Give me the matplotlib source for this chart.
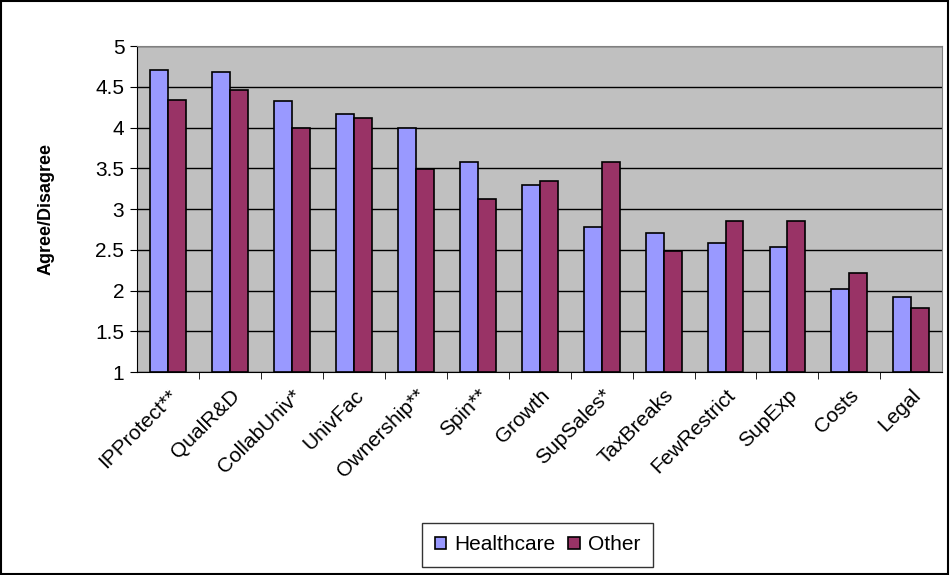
import matplotlib
matplotlib.use('Agg')
import matplotlib.pyplot as plt
import numpy as np
from matplotlib.patches import Rectangle

plt.rcParams['font.family'] = ['Liberation Sans', 'DejaVu Sans']

categories = ['IPProtect**', 'QualR&D', 'CollabUniv*', 'UnivFac', 'Ownership**', 'Spin**',
              'Growth', 'SupSales*', 'TaxBreaks', 'FewRestrict', 'SupExp', 'Costs', 'Legal']
healthcare = [4.71, 4.68, 4.32, 4.17, 4.00, 3.58, 3.29, 2.78, 2.71, 2.58, 2.53, 2.02, 1.92]
other = [4.34, 4.46, 4.00, 4.12, 3.49, 3.12, 3.34, 3.58, 2.49, 2.85, 2.85, 2.21, 1.78]

fig = plt.figure(figsize=(9.5, 5.75), dpi=100)
ax = fig.add_axes([0.144, 0.353, 0.848, 0.567])
ax.set_facecolor('#C0C0C0')

x = np.arange(len(categories))
w = 0.29
ax.bar(x - w/2, [v - 1 for v in healthcare], w, bottom=1, color='#9999FF', edgecolor='black', linewidth=1.2,
       label='Healthcare', zorder=3)
ax.bar(x + w/2, [v - 1 for v in other], w, bottom=1, color='#993366', edgecolor='black', linewidth=1.2,
       label='Other', zorder=3)

ax.set_ylim(1, 5)
ax.set_xlim(-0.5, len(categories) - 0.5)
ax.set_yticks(np.arange(1, 5.01, 0.5))
ax.set_yticklabels(['1', '1.5', '2', '2.5', '3', '3.5', '4', '4.5', '5'], fontsize=15)
ax.yaxis.grid(True, color='black', linewidth=1)
ax.set_axisbelow(True)
ax.set_xticks(x)
ax.set_xticklabels(categories, rotation=45, ha='right', rotation_mode='anchor', fontsize=15)
ax.tick_params(axis='x', length=0, pad=10)
ax.set_xticks(np.arange(0.5, len(categories) - 0.5, 1), minor=True)
ax.tick_params(axis='x', which='minor', length=5, color='black')
ax.tick_params(axis='y', length=5, color='black', pad=4)
for s in ['top', 'right']:
    ax.spines[s].set_color('#808080')
for s in ['left', 'bottom']:
    ax.spines[s].set_color('black')
ax.set_ylabel('Agree/Disagree', fontsize=13, fontweight='bold')
ax.yaxis.set_label_coords(-0.102, 0.5)

leg = fig.legend(loc='lower center', bbox_to_anchor=(0.566, -0.004), ncol=2, fontsize=15,
                 frameon=True, fancybox=False, edgecolor='black', handlelength=0.55, handleheight=0.55,
                 handletextpad=0.4, columnspacing=0.6, borderpad=0.6)
leg.get_frame().set_linewidth(1)

fig.patches.append(Rectangle((0.001, 0.002), 0.997, 0.996, transform=fig.transFigure,
                             fill=False, edgecolor='black', linewidth=1.5))

plt.savefig('out.png', dpi=100)
